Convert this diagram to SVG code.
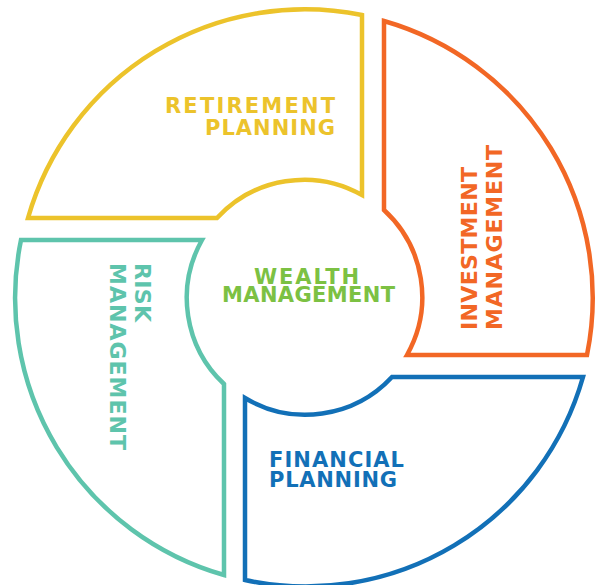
<svg xmlns="http://www.w3.org/2000/svg" width="599" height="585" viewBox="0 0 599 585">
<style>
.seg{fill:none;stroke-width:4.5;stroke-linejoin:miter}
.t{font-family:"DejaVu Sans","Liberation Sans",Arial,sans-serif;font-weight:bold;font-size:21px}
.r{font-size:22px}
</style>
<rect width="599" height="585" fill="#ffffff"/>
<g id="connectors"></g>
<g id="retirement">
<path class="seg" stroke="#ECC32B" d="M 28,218 A 288 288 0 0 1 362,15 L 362,195 A 118 118 0 0 0 217,218 Z"/>
<text class="t" fill="#ECC32B" text-anchor="end" x="335" y="113" textLength="170" lengthAdjust="spacing">RETIREMENT</text>
<text class="t" fill="#ECC32B" text-anchor="end" x="335" y="135" textLength="130" lengthAdjust="spacing">PLANNING</text>
</g>
<g id="investment">
<path class="seg" stroke="#F26725" d="M 384,21 A 288 288 0 0 1 587,355 L 407,355 A 118 118 0 0 0 384,210 Z"/>
<text class="t r" fill="#F26725" transform="translate(477,330) rotate(-90)" x="0" y="0" textLength="163" lengthAdjust="spacing">INVESTMENT</text>
<text class="t r" fill="#F26725" transform="translate(502,330) rotate(-90)" x="0" y="0" textLength="185" lengthAdjust="spacing">MANAGEMENT</text>
</g>
<g id="financial">
<path class="seg" stroke="#1270B7" d="M 245,398 A 118 118 0 0 0 392,377 L 583,377 A 288 288 0 0 1 245,580 Z"/>
<text class="t" fill="#1270B7" x="269" y="467" textLength="135" lengthAdjust="spacing">FINANCIAL</text>
<text class="t" fill="#1270B7" x="269" y="487" textLength="128" lengthAdjust="spacing">PLANNING</text>
</g>
<g id="risk">
<path class="seg" stroke="#5EC4AC" d="M 202,240 L 21,240 A 288 288 0 0 0 224,575 L 224,384 A 118 118 0 0 1 202,240 Z"/>
<text class="t r" fill="#5EC4AC" transform="translate(135,263) rotate(90)" x="0" y="0" textLength="59" lengthAdjust="spacing">RISK</text>
<text class="t r" fill="#5EC4AC" transform="translate(110,263) rotate(90)" x="0" y="0" textLength="187" lengthAdjust="spacing">MANAGEMENT</text>
</g>
<g id="wealth">
<text class="t" fill="#7CC143" x="254" y="284" textLength="105" lengthAdjust="spacing">WEALTH</text>
<text class="t" fill="#7CC143" x="222" y="302" textLength="173" lengthAdjust="spacing">MANAGEMENT</text>
</g>
</svg>
